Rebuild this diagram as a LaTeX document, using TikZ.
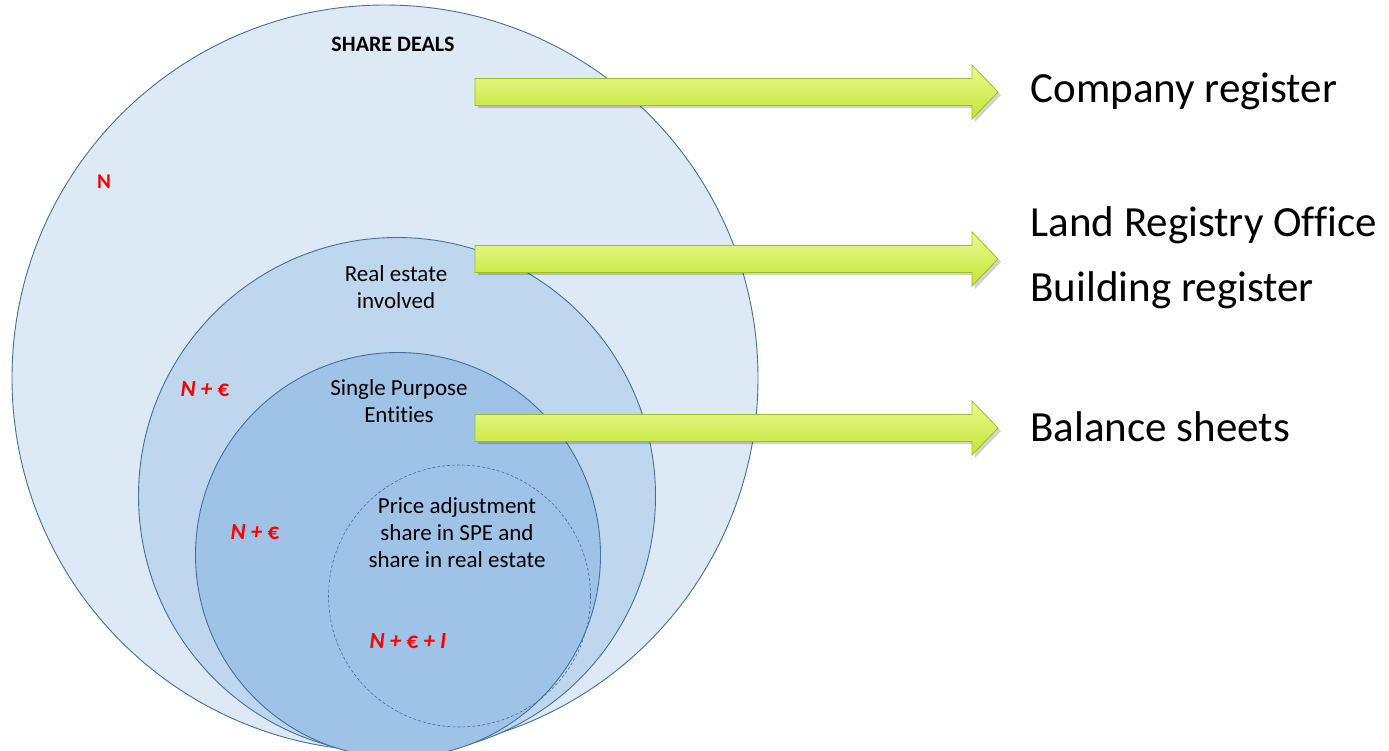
\documentclass[tikz,border=0pt]{standalone}
\usepackage{fontspec}
\setmainfont{Carlito}[RawFeature=-liga]
\usetikzlibrary{positioning}

\definecolor{ringedge}{RGB}{65,113,156}
\definecolor{ringone}{RGB}{221,233,245}
\definecolor{ringtwo}{RGB}{190,215,238}
\definecolor{ringthree}{RGB}{158,195,230}
\definecolor{arrtop}{RGB}{234,249,146}
\definecolor{arrbot}{RGB}{196,229,52}
\definecolor{arredge}{RGB}{150,196,28}
\definecolor{markred}{RGB}{255,0,0}

\newcommand{\eur}{{\upshape €}}

\tikzset{
  ring/.style={draw=ringedge, line width=0.9pt},
  inner/.style={font=\fontsize{23}{27}\selectfont, align=center},
  cost/.style={font=\fontsize{23}{27}\selectfont\bfseries\itshape, text=markred},
  regist/.style={font=\fontsize{43}{50}\selectfont, anchor=west},
}

\begin{document}
\begin{tikzpicture}[x=1pt,y=-1pt]
	\useasboundingbox (0,0) rectangle (1389,750);

	% nested sets
	\draw[ring, fill=ringone] (385,378) circle (373);
	\draw[ring, fill=ringtwo] (397,496) circle (258.5);
	\draw[ring, fill=ringthree] (398,555) circle (202.5);
	\draw[draw=ringedge, line width=0.6pt, dash pattern=on 3pt off 2pt] (459.5,596) circle (131);

	% labels inside the circles
	\node[font=\fontsize{22}{26}\selectfont\bfseries] (deals) at (393,44) {SHARE DEALS};
	\node[font=\fontsize{21}{26}\selectfont\bfseries, text=markred] (n) at (104,182) {N};
	\node[inner] (estate) at (396,287) {Real estate\\involved};
	\node[cost] (ne1) at (205,389) {N + \eur};
	\node[inner] (spe) at (399,401) {Single Purpose\\Entities};
	\node[cost] (ne2) at (255,532) {N + \eur};
	\node[inner] (price) at (457,533) {Price adjustment\\share in SPE and\\share in real estate};
	\node[cost] (nei) at (408,641) {N + \eur{} + I};

	% arrows towards the registers
	\foreach \y in {92,259,428}{
		\fill[black, opacity=0.18] (478,\y-10) -- (975,\y-10) -- (975,\y-24) -- (1001,\y+3) -- (975,\y+30) -- (975,\y+16) -- (478,\y+16) -- cycle;
		\draw[draw=arredge, line width=0.8pt, top color=arrtop, bottom color=arrbot]
			(475,\y-13.5) -- (972,\y-13.5) -- (972,\y-27) -- (998,\y) -- (972,\y+27) -- (972,\y+13.5) -- (475,\y+13.5) -- cycle;
	}

	\node[regist] (company) at (1027,91) {Company register};
	\node[regist] (land) at (1027,225) {Land Registry Office};
	\node[regist] (building) at (1027,290) {Building register};
	\node[regist] (balance) at (1027,427) {Balance sheets};
\end{tikzpicture}
\end{document}
